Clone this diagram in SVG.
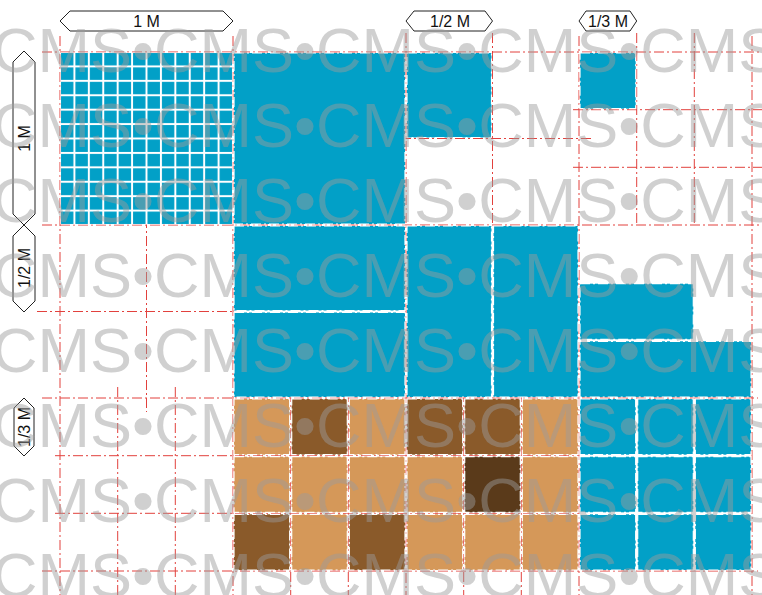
<svg xmlns="http://www.w3.org/2000/svg" width="762" height="595" viewBox="0 0 762 595">
<style>
.red{stroke:#e2413d;stroke-width:1;fill:none;stroke-dasharray:10 3 2 3}
.blue{fill:#02a0c7}
.lt{fill:#d59859}
.dk{fill:#8a5a2a}
.dd{fill:#5a3a1a}
.cell{stroke:#fff;stroke-width:1.2;stroke-dasharray:10 3 2 3}
.lab{fill:#fff;stroke:#222;stroke-width:1}
.lt-txt{font-family:"Liberation Sans",Arial,sans-serif;font-size:16px;fill:#111;text-anchor:middle}
.wm{font-family:"Liberation Sans",Arial,sans-serif;font-size:63px;fill:#9c9c9c;fill-opacity:0.47}
</style>
<defs>
<pattern id="grid12" patternUnits="userSpaceOnUse" x="60" y="52" width="14.4167" height="14.4167">
<rect width="14.4167" height="14.4167" fill="#fff"/>
<rect x="1" y="1" width="12.4167" height="12.4167" fill="#02a0c7"/>
</pattern>
</defs>
<rect width="762" height="595" fill="#fff"/>

<g id="gridlines">
<path class="red" d="M42 52H762M573 109.7H762M573 167.3H762M383 138.5H593M42 225H762M37 311.5H233M42 398H758M55 455.7H579M55 513.3H579M42 571H758"/>
<path class="red" d="M60 36V595M117.7 387V595M146.5 200V412M175.3 387V595M233 36V595M290.7 392V595M348.3 392V595M406 33V595M463.7 392V595M521.3 392V595M492.5 33V225M579 36V595M636.7 33V225M694.3 33V225M752 36V595"/>
</g>

<g id="blue-blocks">
<rect x="60.5" y="52.5" width="172" height="172" fill="url(#grid12)"/>
<rect class="blue cell" x="234" y="53" width="171" height="171"/>
<rect class="blue cell" x="407" y="53" width="84.5" height="84.5"/>
<rect class="blue cell" x="580" y="53" width="55.7" height="55.7"/>
<rect class="blue cell" x="234" y="226" width="171" height="84.5"/>
<rect class="blue cell" x="234" y="312.5" width="171" height="84.5"/>
<rect class="blue cell" x="407" y="226" width="84.5" height="171"/>
<rect class="blue cell" x="493.5" y="226" width="84.5" height="171"/>
<rect class="blue cell" x="580" y="283.7" width="113.3" height="55.6"/>
<rect class="blue cell" x="580" y="341.3" width="171" height="55.7"/>
<rect class="blue cell" x="580" y="399" width="55.7" height="55.7"/>
<rect class="blue cell" x="637.7" y="399" width="55.6" height="55.7"/>
<rect class="blue cell" x="695.3" y="399" width="55.7" height="55.7"/>
<rect class="blue cell" x="580" y="456.7" width="55.7" height="55.6"/>
<rect class="blue cell" x="637.7" y="456.7" width="55.6" height="55.6"/>
<rect class="blue cell" x="695.3" y="456.7" width="55.7" height="55.6"/>
<rect class="blue cell" x="580" y="514.3" width="55.7" height="55.7"/>
<rect class="blue cell" x="637.7" y="514.3" width="55.6" height="55.7"/>
<rect class="blue cell" x="695.3" y="514.3" width="55.7" height="55.7"/>
</g>

<g id="brown-blocks">
<rect class="lt cell" x="234" y="399" width="55.7" height="55.7"/>
<rect class="dk cell" x="291.7" y="399" width="55.6" height="55.7"/>
<rect class="lt cell" x="349.3" y="399" width="55.7" height="55.7"/>
<rect class="dk cell" x="407" y="399" width="55.7" height="55.7"/>
<rect class="dk cell" x="464.7" y="399" width="55.6" height="55.7"/>
<rect class="lt cell" x="522.3" y="399" width="55.7" height="55.7"/>
<rect class="lt cell" x="234" y="456.7" width="55.7" height="55.6"/>
<rect class="lt cell" x="291.7" y="456.7" width="55.6" height="55.6"/>
<rect class="lt cell" x="349.3" y="456.7" width="55.7" height="55.6"/>
<rect class="lt cell" x="407" y="456.7" width="55.7" height="55.6"/>
<rect class="dd cell" x="464.7" y="456.7" width="55.6" height="55.6"/>
<rect class="lt cell" x="522.3" y="456.7" width="55.7" height="55.6"/>
<rect class="dk cell" x="234" y="514.3" width="55.7" height="55.7"/>
<rect class="lt cell" x="291.7" y="514.3" width="55.6" height="55.7"/>
<rect class="dk cell" x="349.3" y="514.3" width="55.7" height="55.7"/>
<rect class="lt cell" x="407" y="514.3" width="55.7" height="55.7"/>
<rect class="lt cell" x="464.7" y="514.3" width="55.6" height="55.7"/>
<rect class="lt cell" x="522.3" y="514.3" width="55.7" height="55.7"/>
</g>

<g id="label-top-1M">
<polygon class="lab" points="60,21 70,11 223,11 233,21 223,31 70,31"/>
<text class="lt-txt" x="146.5" y="27">1 M</text>
</g>
<g id="label-top-half">
<polygon class="lab" points="406,21 414,11 485,11 492.5,21 485,31 414,31"/>
<text class="lt-txt" x="450" y="27">1/2 M</text>
</g>
<g id="label-top-third">
<polygon class="lab" points="579,21 586,11 630,11 636.7,21 630,31 586,31"/>
<text class="lt-txt" x="608" y="27">1/3 M</text>
</g>
<g id="label-left-1M">
<polygon class="lab" points="24,51 35,62 35,214 24,225 13,214 13,62"/>
<text class="lt-txt" transform="translate(30,138.5) rotate(-90)">1 M</text>
</g>
<g id="label-left-half">
<polygon class="lab" points="24,225 35,236 35,301 24,312 13,301 13,236"/>
<text class="lt-txt" transform="translate(30,268) rotate(-90)">1/2 M</text>
</g>
<g id="label-left-third">
<polygon class="lab" points="24,398 34,408 34,446 24,456 14,446 14,408"/>
<text class="lt-txt" transform="translate(30,427) rotate(-90)">1/3 M</text>
</g>

<g id="watermark">
<text class="wm" x="-8" y="72">CMS•CMS•CMS•CMS•CMS</text>
<text class="wm" x="-8" y="147">CMS•CMS•CMS•CMS•CMS</text>
<text class="wm" x="-8" y="222">CMS•CMS•CMS•CMS•CMS</text>
<text class="wm" x="-8" y="297">CMS•CMS•CMS•CMS•CMS</text>
<text class="wm" x="-8" y="372">CMS•CMS•CMS•CMS•CMS</text>
<text class="wm" x="-8" y="447">CMS•CMS•CMS•CMS•CMS</text>
<text class="wm" x="-8" y="522">CMS•CMS•CMS•CMS•CMS</text>
<text class="wm" x="-8" y="597">CMS•CMS•CMS•CMS•CMS</text>
</g>
</svg>
